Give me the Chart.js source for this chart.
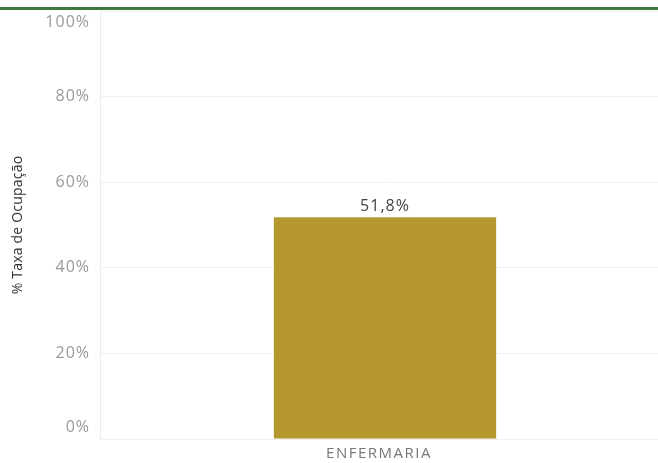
<!DOCTYPE html>
<html>
<head>
<meta charset="utf-8">
<script src="https://cdn.jsdelivr.net/npm/chart.js@4.4.1/dist/chart.umd.min.js"></script>
<style>
  html, body { margin: 0; padding: 0; background: #fff; overflow: hidden; }
  #chart { display: block; }
</style>
</head>
<body>
<canvas id="chart" width="670" height="463"></canvas>
<script>
// data
var categories = ['ENFERMARIA'];
var occupancy = [51.8];
var yTicks = [0, 20, 40, 60, 80, 100];
var yTitle = '% Taxa de Ocupação';

function pct(v) {
    return v.toFixed(v % 1 === 0 ? 0 : 1).replace('.', ',') + '%';
}

var decorations = {
    id: 'decorations',
    beforeDraw: function (chart) {
        chart.ctx.letterSpacing = '1.5px';
    },
    afterDraw: function (chart) {
        var ctx = chart.ctx;
        var y = chart.scales.y;
        var area = chart.chartArea;

        ctx.save();
        // green header line
        ctx.fillStyle = '#3d7b3d';
        ctx.fillRect(0, 7, chart.width, 3);

        // y tick labels, ends kept inside the plot
        ctx.letterSpacing = '1px';
        ctx.font = '16px "Open Sans"';
        ctx.fillStyle = '#9a9a9a';
        ctx.textAlign = 'right';
        ctx.textBaseline = 'middle';
        yTicks.forEach(function (v) {
            var py = y.getPixelForValue(v);
            py = Math.max(area.top + 11, Math.min(area.bottom - 12, py));
            ctx.fillText(v + '%', 90, py);
        });

        // axis title
        ctx.save();
        ctx.translate(18, (area.top + area.bottom) / 2);
        ctx.rotate(-Math.PI / 2);
        ctx.letterSpacing = '0.2px';
        ctx.font = '14px "Open Sans"';
        ctx.fillStyle = '#333';
        ctx.textAlign = 'center';
        ctx.textBaseline = 'middle';
        ctx.fillText(yTitle, 0, 0);
        ctx.restore();

        // value labels
        ctx.letterSpacing = '1px';
        ctx.font = '16px "Open Sans"';
        ctx.fillStyle = '#444';
        ctx.textAlign = 'center';
        ctx.textBaseline = 'bottom';
        chart.getDatasetMeta(0).data.forEach(function (bar, i) {
            ctx.fillText(pct(occupancy[i]), bar.x, bar.y - 3);
        });
        ctx.restore();
    }
};

new Chart(document.getElementById('chart'), {
    type: 'bar',
    data: {
        labels: categories,
        datasets: [{
            data: occupancy,
            backgroundColor: '#b5982f',
            barPercentage: 0.39,
            categoryPercentage: 1
        }]
    },
    options: {
        responsive: false,
        animation: false,
        layout: { padding: { top: 11, right: 0, bottom: 0, left: 0 } },
        plugins: {
            legend: { display: false },
            tooltip: { enabled: false }
        },
        scales: {
            x: {
                grid: { display: false, drawTicks: false },
                border: { display: false },
                ticks: {
                    color: '#777',
                    font: { family: 'Open Sans', size: 15 },
                    padding: 6,
                    labelOffset: -6
                },
                afterFit: function (scale) { scale.height = 24; }
            },
            y: {
                min: 0,
                max: 100,
                ticks: { display: false, stepSize: 20 },
                grid: { color: '#f0f0f0', drawTicks: false },
                border: { color: '#ececec' },
                afterFit: function (scale) { scale.width = 100; }
            }
        }
    },
    plugins: [decorations]
});
</script>
</body>
</html>
